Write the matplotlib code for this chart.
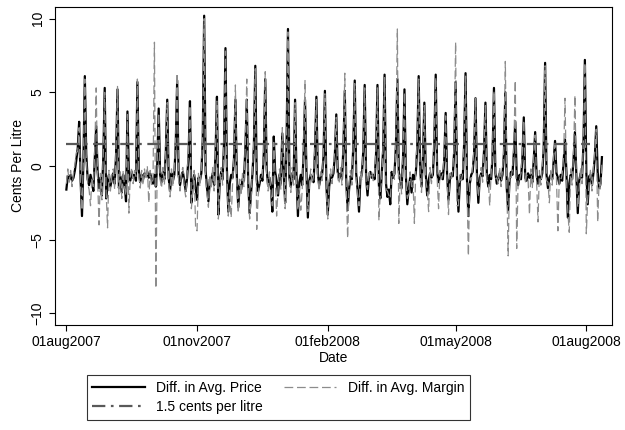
import matplotlib
matplotlib.use("Agg")
import matplotlib.pyplot as plt
import matplotlib.dates as mdates
import pandas as pd

plt.rcParams['font.family'] = ['Liberation Sans', 'DejaVu Sans']

start_date = "2007-08-01"

# daily change in average retail price (cents per litre)
price = [
    -1.6, -0.7, -0.9, -0.6, -1.0, -0.8, -0.3, 0.4, 1.2, 3.0,
    -0.9, -3.4, 0.3, 6.1, 0.8, -0.9, -1.3, -0.6, -1.1, -1.7,
    0.5, 2.7, -0.4, -1.5, -0.8, -2.0, 0.6, 5.3, -2.2, -1.0,
    -0.6, -1.4, -0.9, -0.5, -1.2, 0.8, 5.2, -1.5, -0.7, -1.8,
    -0.6, -1.2, -2.4, 3.7, -0.5, -1.0, -0.4, -0.8, -0.6, -1.0,
    5.7, -0.3, -1.1, -0.6, -0.9, -0.5, -0.7, -0.4, -0.8, -0.5,
    -0.9, -1.2, -0.6, -1.4, 0.2, 3.9, -0.6, -1.1, -0.4, -0.9,
    0.9, 4.5, -0.8, -1.7, -0.5, -1.0, -0.6, 1.5, 5.8, -0.6,
    -1.3, -0.7, -0.4, -1.0, -1.7, -0.8, 0.6, 4.4, -2.5, -1.2,
    -0.6, -1.5, -2.3, -0.8, -1.0, -0.5, 1.8, 10.2, -0.3, -1.5,
    -2.4, -0.9, -1.1, -0.5, -1.3, 0.8, 4.7, -3.3, -1.0, -0.4,
    -0.9, 1.6, 8.0, -0.2, -3.1, -1.2, -0.6, -0.8, 0.5, 4.5,
    -0.7, -2.8, -1.3, -1.6, -0.9, -1.0, 1.2, 4.5, -1.1, -3.2,
    -1.8, -0.5, 1.3, 6.8, -0.9, -1.7, -1.2, -0.6, -1.0, 0.9,
    5.9, -0.2, -1.3, -0.8, -1.5, -3.1, 2.0, -0.4, -1.0, -2.0,
    -0.6, -1.2, 2.2, -0.3, -2.5, 1.5, 9.3, -0.8, -1.4, -0.5,
    -0.9, 4.5, -0.7, -3.4, -1.1, -0.6, -1.3, 0.8, 4.5, -0.4,
    -3.5, -1.0, -0.6, -0.8, -1.1, 1.0, 4.7, -0.5, -1.3, -0.8,
    -0.6, 0.6, 5.1, -1.2, -3.3, -1.4, -0.6, -0.8, -0.5, 0.7,
    3.5, -0.4, -0.8, -0.5, -0.9, 1.2, 5.1, -1.0, -3.0, -1.6,
    -0.7, -0.9, 1.4, 5.8, -0.5, -1.6, -3.1, -0.8, -0.6, 1.0,
    5.5, -0.8, -2.0, -0.7, -0.4, -0.8, -0.6, -0.9, 0.8, 5.5,
    -1.3, -2.2, -0.5, 1.1, 6.2, -1.2, -2.1, -1.6, -2.6, -0.4,
    -0.8, -0.5, 1.4, 5.9, -0.4, -1.0, -1.5, 0.6, 5.2, -0.7,
    -2.6, -1.5, -0.8, -1.8, -0.6, -0.9, -0.5, 1.3, 6.1, -0.2,
    -1.4, 0.5, 4.3, -0.6, -2.0, -1.0, -0.5, -0.8, -0.6, 1.6,
    6.2, -0.4, -1.1, -0.7, -0.5, -0.9, 0.4, 3.6, -0.6, -2.3,
    -0.9, -0.5, -0.7, 1.0, 5.7, -0.8, -3.1, -1.0, -0.6, -0.9,
    1.5, 6.3, -0.9, -3.4, -1.2, -0.6, -0.4, 0.8, 4.6, -0.5,
    -2.5, -0.8, -0.5, -0.7, 1.0, 4.3, -0.6, -1.4, -0.6, -0.9,
    0.7, 5.3, -0.5, -1.2, -0.8, -0.5, -1.0, -0.6, 0.8, 5.0,
    -1.5, -3.0, -0.9, -0.4, -0.6, 0.9, 3.0, -0.7, -1.3, -0.6,
    -0.9, 0.5, 3.3, -0.8, -1.0, -0.5, -0.8, -0.6, -1.1, 0.4,
    2.3, -0.6, -1.2, -0.7, -0.9, -0.5, 1.2, 7.0, -0.6, -1.5,
    -0.8, -0.6, -0.9, 0.3, 1.7, -0.5, -0.8, -1.2, -0.6, -1.0,
    0.2, 1.8, -0.4, -3.5, -1.2, -0.6, -0.9, 0.4, 2.3, -0.6,
    -3.2, -1.0, -0.5, -0.8, 1.5, 7.2, -0.4, -2.6, -0.7, -0.6,
    -1.3, -0.5, 0.6, 2.7, -0.4, -1.5, -1.2, 0.6,
]

# daily change in average retail margin (cents per litre)
margin = [
    -1.2, -0.2, -1.1, -0.3, -1.4, -0.5, 0.1, 0.9, 1.0, 2.6,
    -1.3, -3.0, 0.6, 5.9, 0.5, -1.2, -1.6, -2.7, -0.8, -1.4,
    1.1, 5.3, -0.9, -4.0, -0.5, -2.3, 0.9, 5.0, -1.8, -4.2,
    -0.3, -1.7, -0.6, -0.2, -1.6, 1.2, 5.4, -1.9, -0.4, -2.2,
    -0.3, -1.5, -2.0, 3.5, -3.2, -0.7, -0.1, -1.2, -0.3, -0.7,
    5.9, -0.7, -1.5, -0.3, -1.3, -0.2, -0.9, 0.0, -2.5, -0.3,
    -1.3, -0.9, 8.4, -8.3, 0.5, 3.6, -0.9, -1.5, -0.1, -1.3,
    1.3, 4.3, -1.2, -2.1, -0.2, -1.4, -0.3, 1.9, 6.3, -1.0,
    -1.7, -0.4, -0.1, -1.4, -2.1, -0.5, 1.0, 4.1, -2.9, -1.6,
    -0.3, -4.3, -4.4, -0.5, -1.4, -0.2, 2.2, 10.0, -0.7, -1.9,
    -2.8, -0.6, -1.5, -0.1, -1.7, 1.2, 4.4, -3.6, -1.4, -0.1,
    -1.3, 2.0, 7.8, -0.6, -3.4, -1.6, -3.5, -1.2, 0.9, 5.5,
    -1.1, -3.2, -0.9, -2.0, -0.5, -1.4, 1.6, 5.9, -1.5, -3.6,
    -2.2, -0.1, 1.7, 6.6, -4.3, -2.1, -0.8, -1.0, -0.6, 1.3,
    6.4, -0.6, -1.7, -0.4, -1.9, -2.7, 1.6, -0.8, -3.4, -1.6,
    -0.2, -1.6, 2.6, 0.1, -2.9, 1.9, 9.1, -1.2, -1.8, -0.1,
    -1.3, 4.3, -1.1, -3.0, -1.5, -3.0, -1.7, 1.2, 5.8, -0.8,
    -3.1, -1.4, -0.2, -1.2, -0.7, 1.4, 4.5, -0.9, -1.7, -0.4,
    -1.0, 1.0, 4.9, -1.6, -3.6, -1.0, -0.2, -1.2, -0.1, 1.1,
    3.3, -0.8, -1.2, -0.1, -1.3, 1.6, 6.3, -1.4, -4.9, -1.2,
    -0.3, -1.3, 1.8, 5.6, -0.9, -2.0, -2.7, -0.4, -1.0, 1.4,
    5.3, -1.2, -1.6, -0.3, -0.8, -0.4, -1.0, -0.5, 1.2, 5.3,
    -3.7, -1.8, -0.9, 1.5, 6.0, -1.6, -1.7, -2.0, -2.2, -0.8,
    -0.4, -0.9, 1.8, 9.3, -3.9, -0.6, -1.9, 1.0, 5.0, -1.1,
    -2.2, -1.9, -0.4, -1.4, -1.0, -3.9, -0.1, 1.7, 5.9, -0.6,
    -1.8, 0.9, 4.1, -1.0, -1.6, -3.1, -0.1, -1.2, -0.2, 2.0,
    6.0, -0.8, -2.9, -0.3, -0.9, -0.5, 0.8, 3.4, -1.0, -3.3,
    -0.5, -0.9, -0.3, 1.4, 8.4, -2.7, -2.7, -0.6, -1.0, -0.5,
    1.9, 6.1, -1.3, -6.1, -0.8, -1.0, 0.0, 1.2, 4.6, -0.9,
    -2.1, -1.2, -0.1, -1.1, 1.4, 4.1, -1.0, -1.0, -2.7, -0.5,
    1.1, 5.1, -0.9, -0.8, -1.2, -0.1, -1.4, -0.2, 1.2, 7.1,
    -1.1, -6.1, -0.5, -0.8, -0.2, 1.3, 5.8, -5.6, -0.9, -1.0,
    -0.5, 0.9, 3.1, -1.2, -0.6, -0.9, -3.3, -0.2, -1.5, 0.8,
    2.1, -1.0, -3.8, -0.3, -1.3, -0.1, 1.6, 6.8, -1.0, -1.1,
    -2.5, -0.2, -1.3, 0.7, 1.5, -0.9, -4.4, -0.8, -1.0, -0.6,
    0.6, 4.6, -0.8, -3.1, -4.5, -0.2, -1.3, 0.8, 4.8, -1.0,
    -2.8, -1.4, -0.1, -1.2, 1.9, 7.0, -4.6, -2.2, -1.1, -0.2,
    -1.7, -0.1, 1.0, 2.5, -3.8, -1.1, -1.6, 0.2,
]

threshold = 1.5
tick_dates = ["2007-08-01", "2007-11-01", "2008-02-01", "2008-05-01", "2008-08-01"]
tick_labels = ["01aug2007", "01nov2007", "01feb2008", "01may2008", "01aug2008"]

dates = pd.date_range(start_date, periods=len(price), freq="D")

fig = plt.figure(figsize=(6.25, 4.3), dpi=100)
ax = fig.add_axes([0.088, 0.244, 0.891, 0.740])

l_price, = ax.plot(dates, price, color="black", lw=1.6, label="Diff. in Avg. Price")
l_margin, = ax.plot(dates, margin, color="0.55", lw=0.9, dashes=(7, 3),
                    label="Diff. in Avg. Margin")
l_thr = ax.axhline(threshold, xmin=0.02, xmax=0.96, color="0.35", lw=1.6,
                   dashes=(6, 2.5, 1.2, 2.5), label="1.5 cents per litre")

ax.set_ylim(-10.8, 10.8)
ax.set_xlim(pd.Timestamp("2007-07-24"), pd.Timestamp("2008-08-19"))
ax.set_yticks([-10, -5, 0, 5, 10])
ax.set_yticklabels(["\u221210", "\u22125", "0", "5", "10"], rotation=90, va="center")
ax.set_xticks(pd.to_datetime(tick_dates))
ax.set_xticklabels(tick_labels)
ax.tick_params(labelsize=10, direction="out", length=4, width=0.8)
ax.set_ylabel("Cents Per Litre", fontsize=10)
ax.set_xlabel("Date", fontsize=10, labelpad=1)
for s in ax.spines.values():
    s.set_linewidth(0.8)

leg = fig.legend([l_price, l_thr, l_margin],
                 ["Diff. in Avg. Price", "1.5 cents per litre", "Diff. in Avg. Margin"],
                 ncol=2, loc="center", bbox_to_anchor=(0.445, 0.076),
                 fontsize=10, frameon=True, fancybox=False, edgecolor="black",
                 handlelength=3.8, columnspacing=1.5, borderpad=0.4, labelspacing=0.4)
leg.get_frame().set_linewidth(0.8)

fig.savefig("out.png", dpi=100)
